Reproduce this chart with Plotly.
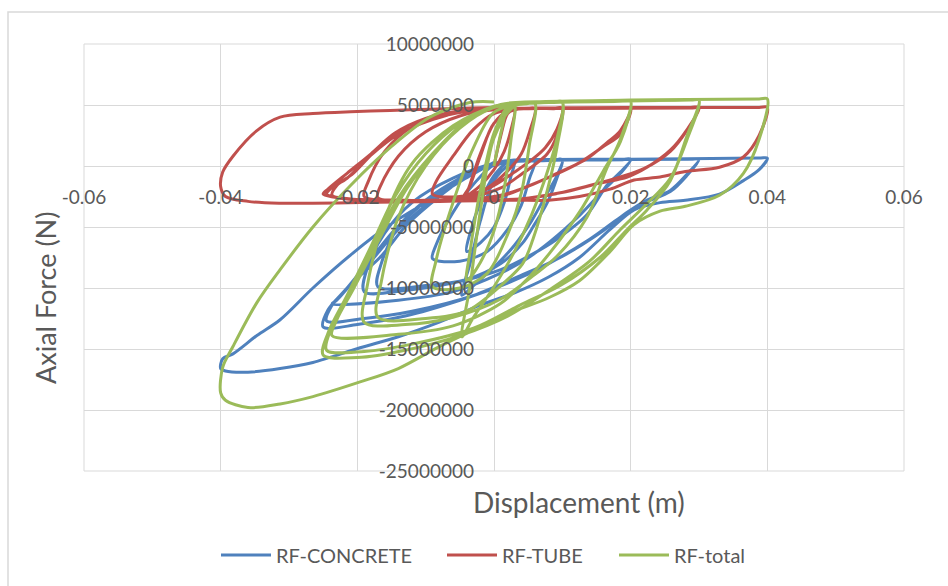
import plotly.graph_objects as go

# Shared displacement history (m)
disp = [
    0.0, 0.001, 0.002, 0.003, 0.0025, 0.0015, 0.0, -0.002, -0.004,
    -0.0035, -0.002, 0.0, 0.002, 0.0048, 0.006, 0.0052, 0.004, 0.002, -0.001, -0.005, -0.009,
    -0.0085, -0.006, -0.003, 0.0, 0.004, 0.0088, 0.01, 0.0092, 0.0075, 0.0055, 0.003, 0.0, -0.003, -0.0047,
    -0.0035, -0.002, 0.0, 0.003, 0.0088, 0.01, 0.0092, 0.0078, 0.0057, 0.0042, 0.001, -0.004, -0.01, -0.017,
    -0.0165, -0.014, -0.01, -0.005, 0.0, 0.005, 0.0188, 0.02, 0.0185, 0.0165, 0.0136, 0.0092, 0.0057, 0.001, -0.006, -0.013, -0.019,
    -0.0185, -0.016, -0.012, -0.006, 0.0, 0.008, 0.0188, 0.02, 0.0185, 0.016, 0.0126, 0.0082, 0.0048, 0.0009, -0.006, -0.014, -0.0237,
    -0.023, -0.0206, -0.0167, -0.0127, -0.008, -0.003, 0.002, 0.012, 0.0288, 0.03, 0.0282, 0.0258, 0.0224, 0.0195, 0.0155, 0.0097, 0.0038, -0.003, -0.012, -0.019, -0.0245,
    -0.0238, -0.0215, -0.018, -0.014, -0.009, -0.004, 0.001, 0.012, 0.0288, 0.03, 0.0282, 0.0258, 0.022, 0.0185, 0.014, 0.008, 0.002, -0.005, -0.013, -0.02, -0.025,
    -0.0243, -0.0215, -0.018, -0.0145, -0.01, -0.005, 0.0, 0.006, 0.02, 0.0388, 0.04,
    0.0388, 0.0365, 0.033, 0.028, 0.0243, 0.0205, 0.017, 0.0125, 0.008, 0.003, -0.002, -0.008, -0.014, -0.0196, -0.0265, -0.0313, -0.036, -0.0393, -0.04,
    -0.0397, -0.0382, -0.0347, -0.0313, -0.0265, -0.021, -0.0152, -0.0094, -0.0035, 0.0,
]

# Forces in MN
rf_concrete_MN = [
    0.0, 0.2, 0.35, 0.4, -0.8, -3.0, -5.0, -6.3, -7.0,
    -5.5, -3.0, -0.8, 0.3, 0.45, 0.45, -1.0, -3.2, -5.2, -7.0, -7.8, -7.6,
    -6.5, -3.8, -1.5, 0.1, 0.4, 0.5, 0.5, -0.8, -2.5, -4.5, -6.5, -8.3, -9.8, -10.6,
    -8.0, -4.5, -1.2, 0.3, 0.5, 0.5, -1.0, -3.0, -5.0, -6.3, -8.0, -9.3, -9.8, -9.9,
    -8.0, -5.0, -2.8, -1.0, 0.2, 0.45, 0.5, 0.5, -0.5, -1.6, -4.0, -6.0, -7.2, -8.5, -9.6, -10.2, -10.3,
    -8.3, -5.5, -3.0, -1.0, 0.2, 0.45, 0.55, 0.55, -0.6, -2.0, -4.0, -6.2, -7.6, -8.8, -10.3, -11.0, -11.3,
    -11.0, -9.5, -7.5, -4.8, -2.5, -0.5, 0.4, 0.5, 0.55, 0.55, -0.7, -2.0, -2.8, -3.8, -5.5, -7.5, -9.0, -10.6, -11.9, -12.5, -12.7,
    -11.5, -10.0, -7.8, -5.2, -2.8, -0.8, 0.35, 0.5, 0.55, 0.55, -0.8, -2.1, -3.0, -4.2, -6.0, -8.0, -9.6, -11.0, -12.3, -13.0, -13.2,
    -11.8, -10.0, -7.6, -5.2, -2.9, -1.0, 0.2, 0.5, 0.55, 0.65, 0.65,
    -0.3, -1.2, -2.3, -2.8, -3.0, -3.6, -5.2, -7.5, -9.1, -10.4, -11.4, -12.8, -14.0, -14.9, -16.1, -16.6, -16.9, -16.8, -16.6,
    -15.8, -15.4, -13.9, -12.6, -10.0, -7.3, -4.8, -2.8, -0.8, 0.3,
]

rf_tube_MN = [
    0.0, 2.5, 4.3, 4.6, 3.0, 1.2, -0.3, -1.6, -2.4,
    -1.5, 1.0, 3.5, 4.5, 4.7, 4.7, 2.8, 1.0, -0.4, -1.8, -2.5, -2.3,
    -1.3, 0.8, 3.0, 4.3, 4.7, 4.7, 4.7, 3.0, 1.5, 0.5, -0.5, -1.6, -2.4, -2.8,
    -1.6, 0.8, 3.5, 4.6, 4.75, 4.75, 2.5, 1.0, 0.0, -0.6, -1.8, -2.6, -2.8, -2.6,
    -1.5, 0.8, 2.8, 4.1, 4.6, 4.7, 4.75, 4.75, 2.9, 1.9, 0.6, -0.6, -1.5, -2.4, -2.8, -2.8, -2.5,
    -1.4, 1.2, 3.2, 4.3, 4.65, 4.72, 4.75, 4.75, 2.6, 1.6, 0.3, -0.9, -1.7, -2.5, -2.8, -2.8, -2.4,
    -1.6, -0.6, 1.6, 3.0, 4.0, 4.55, 4.7, 4.72, 4.75, 4.75, 2.95, 1.3, -0.1, -0.9, -1.4, -2.2, -2.7, -2.8, -2.85, -2.8, -2.3,
    -1.8, -1.0, 0.9, 2.6, 3.8, 4.5, 4.7, 4.78, 4.8, 4.8, 2.9, 1.2, -0.2, -0.9, -1.6, -2.4, -2.8, -2.85, -2.85, -2.8, -2.3,
    -1.9, -0.6, 1.0, 2.7, 3.9, 4.5, 4.7, 4.75, 4.78, 4.8, 4.8,
    2.5, 0.74, -0.1, -0.45, -0.9, -1.15, -1.9, -2.5, -2.8, -2.8, -2.85, -2.9, -2.95, -3.0, -3.05, -3.05, -2.9, -2.5, -1.7,
    -0.5, 0.8, 2.9, 4.0, 4.3, 4.45, 4.55, 4.65, 4.75, 4.8,
]

rf_total_MN = [
    0.0, 2.7, 4.7, 5.0, 2.2, -1.8, -5.3, -7.9, -9.4,
    -7.0, -2.0, 2.7, 4.8, 5.1, 5.1, 1.8, -2.2, -5.6, -8.8, -10.0, -9.9,
    -7.8, -3.0, 1.5, 4.4, 5.1, 5.2, 5.2, 2.2, -1.0, -4.0, -7.0, -9.9, -12.4, -14.0,
    -9.8, -3.7, 2.3, 4.9, 5.25, 5.25, 1.5, -2.0, -6.0, -8.0, -9.8, -11.9, -12.5, -12.4,
    -9.5, -4.2, 0.0, 3.1, 4.8, 5.15, 5.3, 5.3, 2.2, -0.2, -4.2, -7.4, -9.0, -10.9, -12.4, -13.0, -12.8,
    -9.7, -4.3, 0.2, 3.3, 4.85, 5.2, 5.3, 5.3, 2.0, -0.4, -3.7, -7.1, -9.3, -11.3, -13.1, -13.8, -13.9,
    -12.6, -10.1, -5.9, -1.8, 1.5, 4.05, 5.1, 5.25, 5.4, 5.4, 2.4, -1.2, -3.6, -5.2, -7.5, -9.8, -11.4, -13.3, -14.6, -15.2, -15.1,
    -13.3, -11.0, -6.9, -2.6, 1.0, 3.7, 5.05, 5.3, 5.4, 5.4, 2.1, -1.0, -3.3, -5.2, -7.8, -10.2, -12.3, -13.9, -15.1, -15.7, -15.5,
    -13.7, -10.6, -6.6, -2.5, 1.0, 3.5, 4.9, 5.25, 5.4, 5.5, 5.5,
    2.2, -0.6, -2.4, -3.3, -3.7, -4.8, -7.0, -9.4, -10.8, -11.9, -13.2, -14.8, -16.6, -17.7, -18.9, -19.5, -19.8, -19.2, -18.6,
    -16.5, -14.8, -11.2, -8.5, -5.0, -1.6, 1.5, 4.0, 5.2, 5.25,
]

series_names = ["RF-CONCRETE", "RF-TUBE", "RF-total"]
series_colors = ["#4F81BD", "#C0504D", "#9BBB59"]

x_tick_vals = [-0.06, -0.04, -0.02, 0.0, 0.02, 0.04, 0.06]
x_tick_text = ["-0.06", "-0.04", "-0.02", "0", "0.02", "0.04", "0.06"]
y_tick_vals = [10000000, 5000000, 0, -5000000, -10000000, -15000000, -20000000, -25000000]
y_tick_text = ["10000000", "5000000", "0", "-5000000", "-10000000", "-15000000", "-20000000", "-25000000"]

W, H = 948, 586
L, R, T, B = 84, 904, 44, 471

def px_x(p):
    return (p - L) / (R - L)

def px_y(p):
    return (B - p) / (B - T)

FONT = "Lato"
GREY = "#595959"
GRID = "#d9d9d9"

legend_ids = ["legend", "legend2", "legend3"]
legend_left_px = [216, 442, 614]

fig = go.Figure()
for name, color, vals, lid in zip(series_names, series_colors,
                                  [rf_concrete_MN, rf_tube_MN, rf_total_MN], legend_ids):
    fig.add_trace(go.Scatter(
        x=disp, y=[v * 1e6 for v in vals], mode="lines", name=name,
        line=dict(color=color, width=3, shape="spline", smoothing=0.9),
        legend=lid,
    ))

legend_common = dict(
    orientation="h", xanchor="left", y=px_y(555), yanchor="middle",
    font=dict(family=FONT, color=GREY, size=20),
    bgcolor="rgba(0,0,0,0)", itemwidth=50,
)

y_min, y_max = -25000000, 10000000
fig.update_layout(
    width=W, height=H,
    margin=dict(l=L, r=W - R, t=T, b=H - B, pad=0),
    paper_bgcolor="white", plot_bgcolor="white",
    font=dict(family=FONT, color=GREY, size=19),
    xaxis=dict(
        range=[-0.06, 0.06], tickvals=x_tick_vals, ticktext=x_tick_text,
        showgrid=True, gridcolor=GRID, gridwidth=1,
        zeroline=True, zerolinecolor=GRID, zerolinewidth=1,
        showline=False, ticks="", anchor="free",
        position=(0 - y_min) / (y_max - y_min),
        tickfont=dict(family=FONT, color=GREY, size=19),
        ticklabelstandoff=18,
    ),
    yaxis=dict(
        range=[y_min, y_max], tickvals=y_tick_vals, ticktext=y_tick_text,
        showgrid=True, gridcolor=GRID, gridwidth=1,
        zeroline=True, zerolinecolor=GRID, zerolinewidth=1,
        showline=False, ticks="", anchor="free", position=0.5,
        tickfont=dict(family=FONT, color=GREY, size=19),
        ticklabelstandoff=20,
    ),
    showlegend=True,
    legend=dict(x=px_x(legend_left_px[0]), **legend_common),
    legend2=dict(x=px_x(legend_left_px[1]), **legend_common),
    legend3=dict(x=px_x(legend_left_px[2]), **legend_common),
    shapes=[
        dict(type="rect", xref="paper", yref="paper", x0=0, x1=1, y0=0, y1=1,
             line=dict(color=GRID, width=1), layer="below"),
        dict(type="rect", xref="paper", yref="paper",
             x0=px_x(8), x1=px_x(960), y0=px_y(600), y1=px_y(12),
             line=dict(color=GRID, width=1.5), layer="below"),
    ],
    annotations=[
        dict(text="Axial Force (N)", xref="paper", yref="paper",
             x=px_x(45), y=px_y(298), textangle=-90, showarrow=False,
             font=dict(family=FONT, color=GREY, size=27),
             xanchor="center", yanchor="middle"),
        dict(text="Displacement (m)", xref="paper", yref="paper",
             x=px_x(579), y=px_y(502), showarrow=False,
             font=dict(family=FONT, color=GREY, size=28),
             xanchor="center", yanchor="middle"),
    ],
)

fig.write_html("out.html")
